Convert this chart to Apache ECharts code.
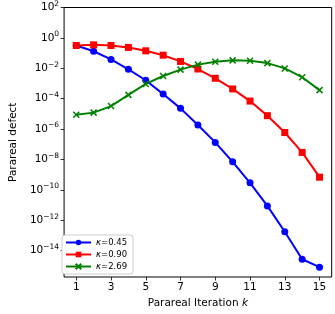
<!DOCTYPE html>
<html><head><meta charset="utf-8">
<script src="https://cdn.jsdelivr.net/npm/echarts@6/dist/echarts.min.js"></script>
<style>html,body{margin:0;padding:0;background:#fff}#c{width:335px;height:314px}</style>
</head><body><div id="c"></div>
<script>
var iterations = [1,2,3,4,5,6,7,8,9,10,11,12,13,14,15];
var xTicks = [1,3,5,7,9,11,13,15];
var yTickExps = [-14,-12,-10,-8,-6,-4,-2,0,2];
var labels = ['0.45','0.90','2.69'];
// log10 of the defect values
var logBlue = [-0.50,-0.88,-1.42,-2.07,-2.79,-3.70,-4.64,-5.73,-6.88,-8.16,-9.54,-11.06,-12.76,-14.57,-15.09];
var logRed = [-0.50,-0.46,-0.50,-0.63,-0.85,-1.14,-1.55,-2.05,-2.66,-3.36,-4.16,-5.12,-6.23,-7.54,-9.17];
var logGreen = [-5.06,-4.92,-4.49,-3.75,-3.03,-2.51,-2.09,-1.76,-1.57,-1.48,-1.50,-1.66,-2.01,-2.59,-3.44];

function pairs(logs){ return iterations.map(function(k,i){ return [k, Math.pow(10, logs[i])]; }); }
var supMap = {'-':'−'};
function fmtY(v){
  var e = Math.round(Math.log10(v));
  var s = String(e).replace('-', '−');
  return '{b|10}{s|' + s + '}';
}
var chart = echarts.init(document.getElementById('c'), null, {renderer:'canvas'});
var font = 'DejaVu Sans';
var xCross = 'path://M0,0L10,10M10,0L0,10';
chart.setOption({
  animation:false,
  backgroundColor:'#fff',
  textStyle:{fontFamily:font},
  grid:{left:58, right:3.3, top:6, bottom:35.7, show:true, borderColor:'#000', borderWidth:1, backgroundColor:'transparent'},
  xAxis:{
    type:'value', min:0.3, max:15.7,
    axisLine:{show:false},
    splitLine:{show:false},
    axisTick:{show:true, length:3.5, inside:false, lineStyle:{color:'#000', width:0.8}, customValues:xTicks},
    axisLabel:{customValues:xTicks, color:'#000', fontSize:10.5, fontFamily:font, margin:5},
    name:'{n|Parareal Iteration }{i|k}', nameLocation:'middle', nameGap:21,
    nameTextStyle:{rich:{n:{fontSize:10.5, fontFamily:font, color:'#000'}, i:{fontSize:10.5, fontFamily:font, fontStyle:'italic', color:'#000'}}}
  },
  yAxis:{
    type:'log', logBase:10, min:Math.pow(10,-15.74), max:100,
    axisLine:{show:false},
    splitLine:{show:false},
    axisTick:{show:true, length:3.5, lineStyle:{color:'#000', width:0.8}, customValues:yTickExps.map(function(e){return Math.pow(10,e);})},
    axisLabel:{customValues:yTickExps.map(function(e){return Math.pow(10,e);}), formatter:fmtY, margin:5,
      rich:{b:{fontSize:10.5, fontFamily:font, color:'#000'}, s:{fontSize:7.5, fontFamily:font, color:'#000', padding:[0,0,7,0]}}},
    name:'Parareal defect', nameLocation:'middle', nameGap:44,
    nameTextStyle:{fontSize:10.5, fontFamily:font, color:'#000'}
  },
  legend:{
    left:62, top:235, orient:'vertical', itemGap:3, itemWidth:25, itemHeight:7,
    padding:[3,6,3,3], borderColor:'#ccc', borderWidth:1, borderRadius:3, backgroundColor:'#fff',
    textStyle:{fontSize:8.5, fontFamily:font, color:'#000', rich:{i:{fontStyle:'italic', fontSize:8.5, fontFamily:font}, t:{fontSize:8.5, fontFamily:font}}},
    formatter:function(name){ return '{i|κ}{t|=' + name + '}'; },
    data:labels
  },
  series:[
    {name:labels[0], type:'line', data:pairs(logBlue), symbol:'circle', symbolSize:7, lineStyle:{color:'#0000ff', width:2}, itemStyle:{color:'#0000ff'}},
    {name:labels[1], type:'line', data:pairs(logRed), symbol:'rect', symbolSize:7, lineStyle:{color:'#ff0000', width:2}, itemStyle:{color:'#ff0000'}},
    {name:labels[2], type:'line', data:pairs(logGreen), symbol:xCross, symbolSize:6, lineStyle:{color:'#008000', width:2}, itemStyle:{color:'#008000', borderColor:'#008000', borderWidth:1.5}}
  ]
});
</script></body></html>
